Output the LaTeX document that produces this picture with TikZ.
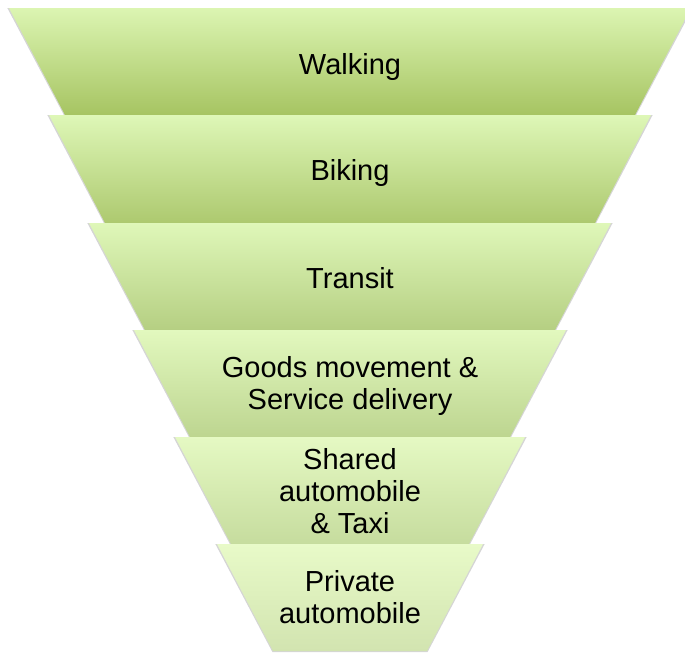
\documentclass[tikz,border=0pt]{standalone}
\usepackage{fontspec}
\setmainfont{Liberation Sans}
\definecolor{tA}{HTML}{DCF5B2}\definecolor{bA}{HTML}{A6C462}
\definecolor{tB}{HTML}{DEF7B7}\definecolor{bB}{HTML}{ADC96F}
\definecolor{tC}{HTML}{DFF7B9}\definecolor{bC}{HTML}{B5CF82}
\definecolor{tD}{HTML}{E2F8BE}\definecolor{bD}{HTML}{BDD590}
\definecolor{tE}{HTML}{E5F9C3}\definecolor{bE}{HTML}{C6DC9E}
\definecolor{tF}{HTML}{E8FAC8}\definecolor{bF}{HTML}{D2E4B0}
\begin{document}
\begin{tikzpicture}[x=1pt,y=-1pt,
  lbl/.style={anchor=base,align=center,text=black,inner sep=0pt,
    font=\fontsize{29}{32}\selectfont},
  edgeshadow/.style={draw=black!55,line width=2pt,opacity=0.3,line join=miter}]
\useasboundingbox (0,0) rectangle (685,653);
\clip (0,0) rectangle (685,653);
% layers: top y / bottom y / top half-width / colours
\foreach \ty/\by/\hw/\tc/\bc in {8/115/341/tA/bA,115/223/301/tB/bB,223/330/261/tC/bC,
    330/437/216/tD/bD,437/544/175/tE/bE,544/651/133/tF/bF}{
  \pgfmathsetmacro{\hb}{\hw-56}
  \draw[edgeshadow] (350-\hw,\ty+1) -- (350+\hw,\ty+1) -- (350+\hb,\by) -- (350-\hb,\by) -- cycle;
  \shade[top color=\tc,bottom color=\bc] (350-\hw,\ty) -- (350+\hw,\ty) -- (350+\hb,\by) -- (350-\hb,\by) -- cycle;
}
\node[lbl] (walk) at (350,74) {Walking};
\node[lbl] (bike) at (350,180) {Biking};
\node[lbl] (transit) at (350,288) {Transit};
\node[lbl] (goods) at (350,409) {Goods movement \&\\Service delivery};
\node[lbl] (shared) at (350,533) {Shared\\automobile\\\& Taxi};
\node[lbl] (private) at (350,623) {Private\\automobile};
\end{tikzpicture}
\end{document}
